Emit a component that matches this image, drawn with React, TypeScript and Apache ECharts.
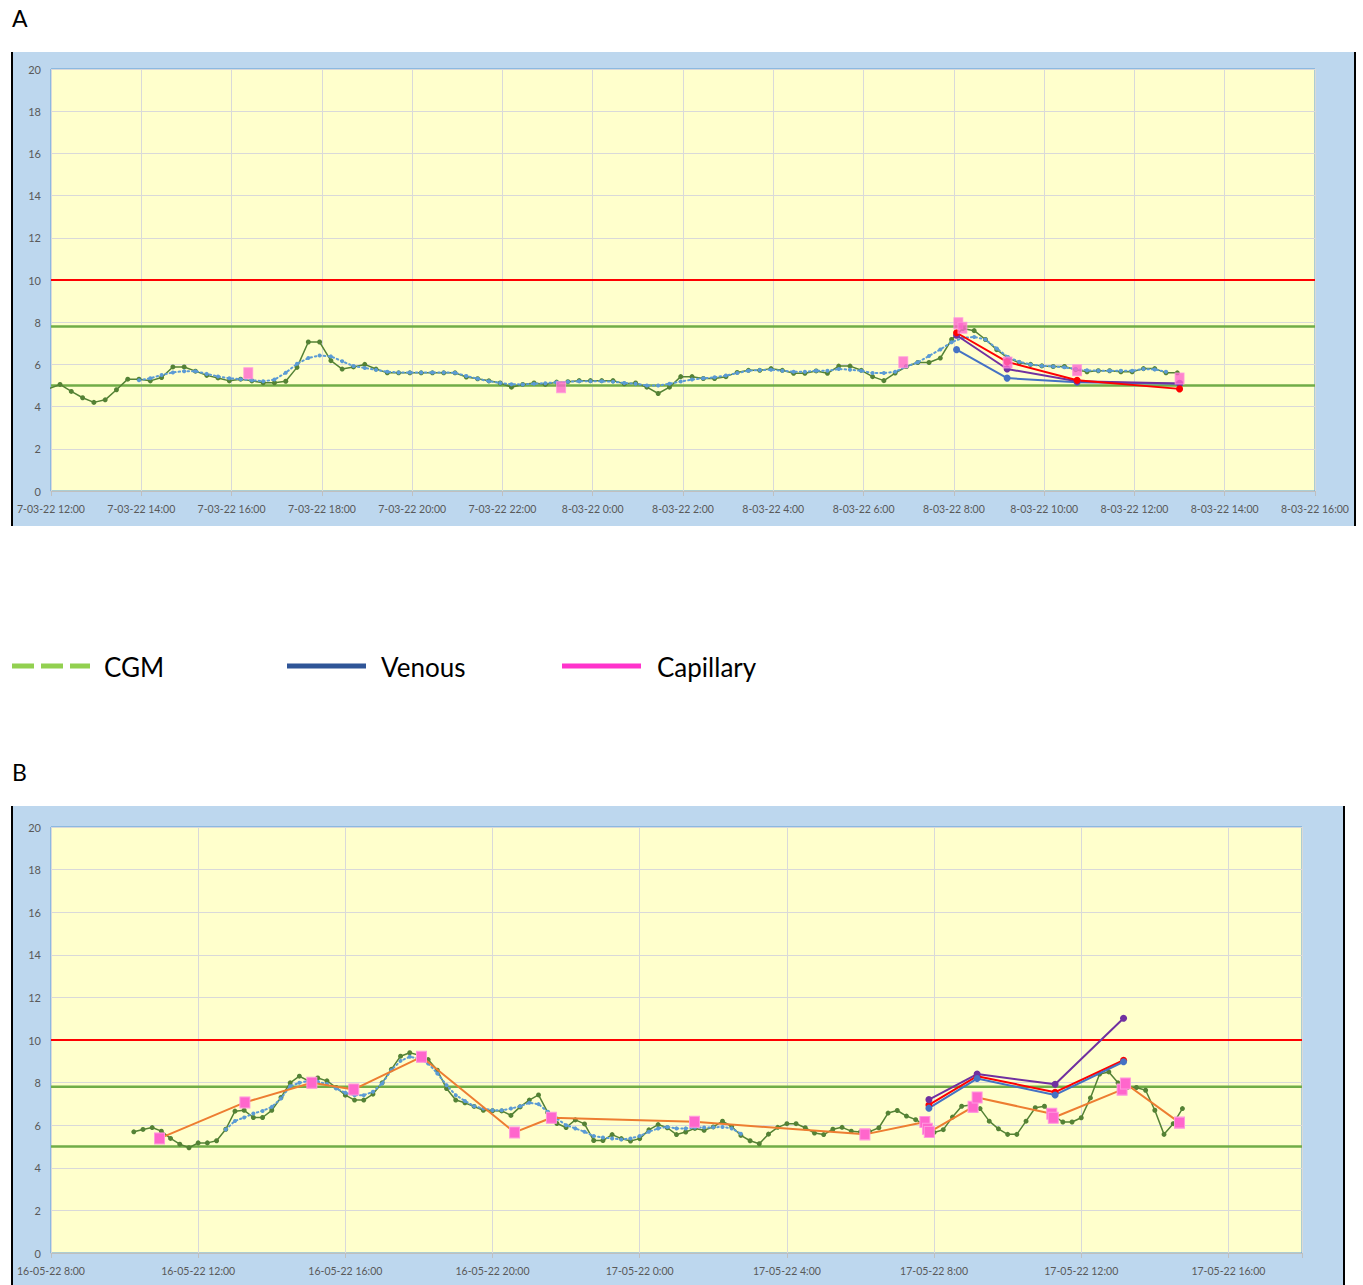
import React, { useEffect, useRef } from 'react';
import * as echarts from 'echarts';

// ---------- shared ----------
const CGM_STEP_H = 0.25; // CGM samples every 15 minutes
const THRESHOLDS = [10, 7.8, 5.0];
const THRESHOLD_COLORS = ['#FF0000', '#70AD47', '#70AD47'];

// ---------- Panel A (hours after 7-03-22 12:00) ----------
const A_X_MAX = 28;
const A_X_INTERVAL = 2;
const A_CGM_START_H = -0.05;
const A_CGM = [
  4.85, 5.05, 4.72, 4.42, 4.2, 4.32, 4.8, 5.3, 5.3, 5.22,
  5.38, 5.88, 5.88, 5.68, 5.48, 5.36, 5.22, 5.3, 5.22, 5.13,
  5.13, 5.2, 5.86, 7.06, 7.06, 6.18, 5.78, 5.88, 6.0, 5.78,
  5.6, 5.6, 5.6, 5.6, 5.6, 5.6, 5.6, 5.4, 5.32, 5.22,
  5.12, 4.92, 5.05, 5.12, 5.05, 5.16, 5.18, 5.23, 5.23, 5.23,
  5.23, 5.08, 5.12, 4.92, 4.62, 4.92, 5.42, 5.42, 5.33, 5.33,
  5.42, 5.62, 5.72, 5.72, 5.8, 5.72, 5.58, 5.58, 5.69, 5.58,
  5.92, 5.92, 5.72, 5.42, 5.23, 5.59, 5.9, 6.09, 6.09, 6.3,
  7.18, 7.7, 7.6, 7.18, 6.7, 6.3, 6.08, 6.0, 5.93, 5.9,
  5.9, 5.75, 5.65, 5.7, 5.7, 5.65, 5.65, 5.8, 5.8, 5.6,
  5.6,
];
const A_TREND_START_H = 1.95;
const A_TREND = [
  5.25, 5.34, 5.5, 5.62, 5.68, 5.68, 5.55, 5.43, 5.34, 5.3,
  5.25, 5.2, 5.28, 5.6, 6.03, 6.3, 6.42, 6.38, 6.15, 5.92,
  5.83, 5.74, 5.65, 5.62, 5.62, 5.62, 5.62, 5.62, 5.6, 5.45,
  5.32, 5.2, 5.12, 5.06, 5.05, 5.08, 5.11, 5.15, 5.18, 5.2,
  5.2, 5.2, 5.18, 5.12, 5.08, 5.0, 5.0, 5.08, 5.19, 5.28,
  5.34, 5.39, 5.47, 5.59, 5.7, 5.73, 5.75, 5.7, 5.65, 5.65,
  5.7, 5.7, 5.78, 5.75, 5.7, 5.59, 5.59, 5.65, 5.9, 6.1,
  6.4, 6.71, 7.05, 7.26, 7.3, 7.18, 6.75, 6.35, 6.12, 6.0,
  5.93, 5.9, 5.86, 5.78, 5.72, 5.7, 5.7, 5.7, 5.7, 5.78,
  5.76, 5.65,
];
const A_CAP_H = [4.37, 11.3, 18.88, 20.1, 20.19, 21.19, 22.73, 25.0];
const A_CAP_V = [5.58, 4.92, 6.1, 7.95, 7.74, 6.09, 5.72, 5.33];
const A_VEN_H = [20.06, 21.18, 22.73, 25.0];
const A_VEN_RED = [7.5, 6.12, 5.25, 4.84];
const A_VEN_PURPLE = [7.38, 5.78, 5.2, 5.1];
const A_VEN_BLUE = [6.7, 5.35, 5.15, 5.08];

// ---------- Panel B (hours after 16-05-22 8:00) ----------
const B_X_MAX = 34;
const B_X_INTERVAL = 4;
const B_CGM_START_H = 2.25;
const B_CGM = [
  5.69, 5.8, 5.89, 5.72, 5.38, 5.11, 4.94, 5.17, 5.17, 5.27,
  5.81, 6.66, 6.7, 6.36, 6.36, 6.7, 7.3, 7.99, 8.3, 8.08,
  8.22, 8.08, 7.77, 7.41, 7.18, 7.18, 7.46, 7.99, 8.62, 9.24,
  9.4, 9.29, 9.08, 8.58, 7.72, 7.18, 7.05, 6.88, 6.7, 6.68,
  6.67, 6.46, 6.86, 7.18, 7.42, 6.6, 6.08, 5.89, 6.25, 6.06,
  5.28, 5.28, 5.56, 5.37, 5.26, 5.37, 5.78, 6.03, 5.88, 5.56,
  5.68, 5.85, 5.76, 5.92, 6.19, 5.94, 5.52, 5.27, 5.13, 5.58,
  5.9, 6.07, 6.07, 5.88, 5.63, 5.56, 5.81, 5.9, 5.72, 5.68,
  5.7, 5.88, 6.57, 6.69, 6.43, 6.26, 6.0, 5.66, 5.79, 6.38,
  6.89, 6.95, 6.78, 6.19, 5.83, 5.57, 5.57, 6.19, 6.82, 6.89,
  6.45, 6.15, 6.15, 6.35, 7.28, 8.4, 8.5, 7.99, 7.77, 7.77,
  7.64, 6.7, 5.57, 6.07, 6.78,
];
const B_TREND_START_H = 4.75;
const B_TREND = [
  5.8, 6.2, 6.36, 6.55, 6.67, 6.86, 7.25, 7.83, 7.99, 8.08,
  8.04, 7.93, 7.72, 7.52, 7.41, 7.41, 7.57, 7.96, 8.58, 9.02,
  9.21, 9.13, 8.9, 8.43, 7.88, 7.41, 7.14, 6.89, 6.78, 6.7,
  6.7, 6.78, 6.89, 7.05, 6.99, 6.63, 6.31, 6.0, 5.85, 5.69,
  5.49, 5.42, 5.38, 5.33, 5.38, 5.49, 5.69, 5.85, 5.92, 5.85,
  5.85, 5.89, 5.89, 5.9, 5.92, 5.85, 5.6,
];
const B_CAP_H = [2.95, 5.27, 7.09, 8.23, 10.07, 12.6, 13.6, 17.49, 22.12, 23.75, 23.82, 23.87, 25.06, 25.17, 27.2, 27.24, 29.11, 29.2, 30.67];
const B_CAP_V = [5.38, 7.07, 7.99, 7.68, 9.21, 5.66, 6.35, 6.16, 5.57, 6.15, 5.83, 5.68, 6.86, 7.3, 6.54, 6.35, 7.67, 7.96, 6.12];
const B_VEN_H = [23.86, 25.17, 27.29, 29.15];
const B_VEN_PURPLE = [7.2, 8.4, 7.92, 11.02];
const B_VEN_RED = [6.95, 8.3, 7.55, 9.05];
const B_VEN_BLUE = [6.8, 8.19, 7.42, 8.98];

// ---------- legend ----------
const LEGEND_LABELS = ['CGM', 'Venous', 'Capillary'];

// ---------- helpers ----------
const seq = (start: number, vals: number[]) => vals.map((v, i) => [start + i * CGM_STEP_H, v]);
const zip = (hs: number[], vs: number[]) => hs.map((h, i) => [h, vs[i]]);

const AXIS_FONT = "'Liberation Sans Narrow', 'Lato', sans-serif";
const TEXT_FONT = "'Lato', 'Liberation Sans', sans-serif";

function labelA(v: number) {
  const t = 12 + v;
  const day = 7 + Math.floor(t / 24);
  return `${day}-03-22 ${t % 24}:00`;
}
function labelB(v: number) {
  if (v > 32) return '';
  const t = 8 + v;
  const day = 16 + Math.floor(t / 24);
  return `${day}-05-22 ${t % 24}:00`;
}

function xAxisCfg(gridIndex: number, max: number, interval: number, fmt: (v: number) => string) {
  return {
    type: 'value', gridIndex, min: 0, max, interval,
    axisLine: { show: true, lineStyle: { color: '#BFBFBF', width: 1 } },
    axisTick: { show: true, length: 5, lineStyle: { color: '#BFBFBF' } },
    axisLabel: { color: '#595959', fontSize: 10.5, fontFamily: AXIS_FONT, margin: 12, formatter: fmt, showMaxLabel: true, showMinLabel: true },
    splitLine: { show: true, lineStyle: { color: '#D9D9D9', width: 1 } },
  };
}
function yAxisCfg(gridIndex: number) {
  return {
    type: 'value', gridIndex, min: 0, max: 20, interval: 2,
    axisLine: { show: false }, axisTick: { show: false },
    axisLabel: { color: '#595959', fontSize: 11, fontFamily: AXIS_FONT, margin: 10 },
    splitLine: { show: true, lineStyle: { color: '#D9D9D9', width: 1 } },
  };
}

function thresholdSeries(idx: number, xMax: number) {
  return THRESHOLDS.map((t, i) => ({
    type: 'line', xAxisIndex: idx, yAxisIndex: idx, silent: true, symbol: 'none',
    data: [[0, t], [xMax, t]],
    lineStyle: { color: THRESHOLD_COLORS[i], width: i === 0 ? 2 : 2.5 },
    z: 1,
  }));
}
function cgmSeries(idx: number, data: number[][]) {
  return {
    type: 'line', xAxisIndex: idx, yAxisIndex: idx, data, symbol: 'circle', symbolSize: 5,
    itemStyle: { color: '#548235' }, lineStyle: { color: '#548235', width: 1.5 }, z: 2,
  };
}
function trendSeries(idx: number, data: number[][]) {
  return {
    type: 'line', xAxisIndex: idx, yAxisIndex: idx, data, symbol: 'circle', symbolSize: 4,
    itemStyle: { color: '#5B9BD5' }, lineStyle: { color: '#5B9BD5', width: 2, type: [1.5, 3], cap: 'round' }, z: 3,
  };
}
function venousSeries(idx: number, data: number[][], color: string) {
  return {
    type: 'line', xAxisIndex: idx, yAxisIndex: idx, data, symbol: 'circle', symbolSize: 7,
    itemStyle: { color }, lineStyle: { color, width: 2 }, z: 4,
  };
}

export default function App() {
  const ref = useRef<HTMLDivElement>(null);
  useEffect(() => {
    if (!ref.current) return;
    const chart = echarts.init(ref.current, undefined, { renderer: 'svg' });
    const capStyle = { color: '#FF66CC', borderColor: '#FF99DD', borderWidth: 1 };
    const option: any = {
      animation: false,
      backgroundColor: '#FFFFFF',
      grid: [
        { left: 51, top: 69, width: 1264, height: 422, show: true, backgroundColor: '#FFFFCC', borderColor: '#5B9BD5', borderWidth: 1 },
        { left: 51, top: 827, width: 1251, height: 426, show: true, backgroundColor: '#FFFFCC', borderColor: '#5B9BD5', borderWidth: 1 },
      ],
      xAxis: [xAxisCfg(0, A_X_MAX, A_X_INTERVAL, labelA), xAxisCfg(1, B_X_MAX, B_X_INTERVAL, labelB)],
      yAxis: [yAxisCfg(0), yAxisCfg(1)],
      series: [
        ...thresholdSeries(0, A_X_MAX),
        cgmSeries(0, seq(A_CGM_START_H, A_CGM)),
        trendSeries(0, seq(A_TREND_START_H, A_TREND)),
        venousSeries(0, zip(A_VEN_H, A_VEN_BLUE), '#4472C4'),
        venousSeries(0, zip(A_VEN_H, A_VEN_PURPLE), '#7030A0'),
        venousSeries(0, zip(A_VEN_H, A_VEN_RED), '#FF0000'),
        {
          type: 'scatter', xAxisIndex: 0, yAxisIndex: 0, data: zip(A_CAP_H, A_CAP_V),
          symbol: 'rect', symbolSize: [9, 11], itemStyle: capStyle, z: 6,
        },
        ...thresholdSeries(1, B_X_MAX),
        cgmSeries(1, seq(B_CGM_START_H, B_CGM)),
        trendSeries(1, seq(B_TREND_START_H, B_TREND)),
        {
          type: 'line', xAxisIndex: 1, yAxisIndex: 1, data: zip(B_CAP_H, B_CAP_V),
          symbol: 'rect', symbolSize: [10, 11], itemStyle: capStyle,
          lineStyle: { color: '#ED7D31', width: 2 }, z: 5,
        },
        venousSeries(1, zip(B_VEN_H, B_VEN_RED), '#FF0000'),
        venousSeries(1, zip(B_VEN_H, B_VEN_PURPLE), '#7030A0'),
        venousSeries(1, zip(B_VEN_H, B_VEN_BLUE), '#4472C4'),
      ],
      graphic: [
        { type: 'rect', z: -10, silent: true, shape: { x: 12, y: 52, width: 1343, height: 474 }, style: { fill: '#BDD7EE' } },
        { type: 'rect', z: -10, silent: true, shape: { x: 12, y: 806, width: 1332, height: 479 }, style: { fill: '#BDD7EE' } },
        { type: 'line', z: 10, silent: true, shape: { x1: 12, y1: 52, x2: 12, y2: 526 }, style: { stroke: '#000', lineWidth: 2 } },
        { type: 'line', z: 10, silent: true, shape: { x1: 1355, y1: 52, x2: 1355, y2: 526 }, style: { stroke: '#000', lineWidth: 2 } },
        { type: 'line', z: 10, silent: true, shape: { x1: 12, y1: 806, x2: 12, y2: 1285 }, style: { stroke: '#000', lineWidth: 2 } },
        { type: 'line', z: 10, silent: true, shape: { x1: 1344, y1: 806, x2: 1344, y2: 1285 }, style: { stroke: '#000', lineWidth: 2 } },
        { type: 'text', z: 10, x: 12, y: 18, style: { text: 'A', fontSize: 23, fontFamily: TEXT_FONT, fill: '#000', verticalAlign: 'middle' } },
        { type: 'text', z: 10, x: 12, y: 772, style: { text: 'B', fontSize: 23, fontFamily: TEXT_FONT, fill: '#000', verticalAlign: 'middle' } },
        { type: 'line', z: 10, shape: { x1: 12, y1: 666, x2: 90, y2: 666 }, style: { stroke: '#92D050', lineWidth: 5, lineDash: [22, 7] } },
        { type: 'text', z: 10, x: 104, y: 667, style: { text: LEGEND_LABELS[0], fontSize: 26, fontFamily: TEXT_FONT, fill: '#000', verticalAlign: 'middle' } },
        { type: 'line', z: 10, shape: { x1: 287, y1: 666, x2: 366, y2: 666 }, style: { stroke: '#2F5597', lineWidth: 5 } },
        { type: 'text', z: 10, x: 381, y: 667, style: { text: LEGEND_LABELS[1], fontSize: 26, fontFamily: TEXT_FONT, fill: '#000', verticalAlign: 'middle' } },
        { type: 'line', z: 10, shape: { x1: 562, y1: 666, x2: 641, y2: 666 }, style: { stroke: '#FF33CC', lineWidth: 5 } },
        { type: 'text', z: 10, x: 657, y: 667, style: { text: LEGEND_LABELS[2], fontSize: 26, fontFamily: TEXT_FONT, fill: '#000', verticalAlign: 'middle' } },
      ],
    };
    chart.setOption(option);
    return () => chart.dispose();
  }, []);
  return <div ref={ref} style={{ position: 'absolute', left: 0, top: 0, width: 1363, height: 1285 }} />;
}
